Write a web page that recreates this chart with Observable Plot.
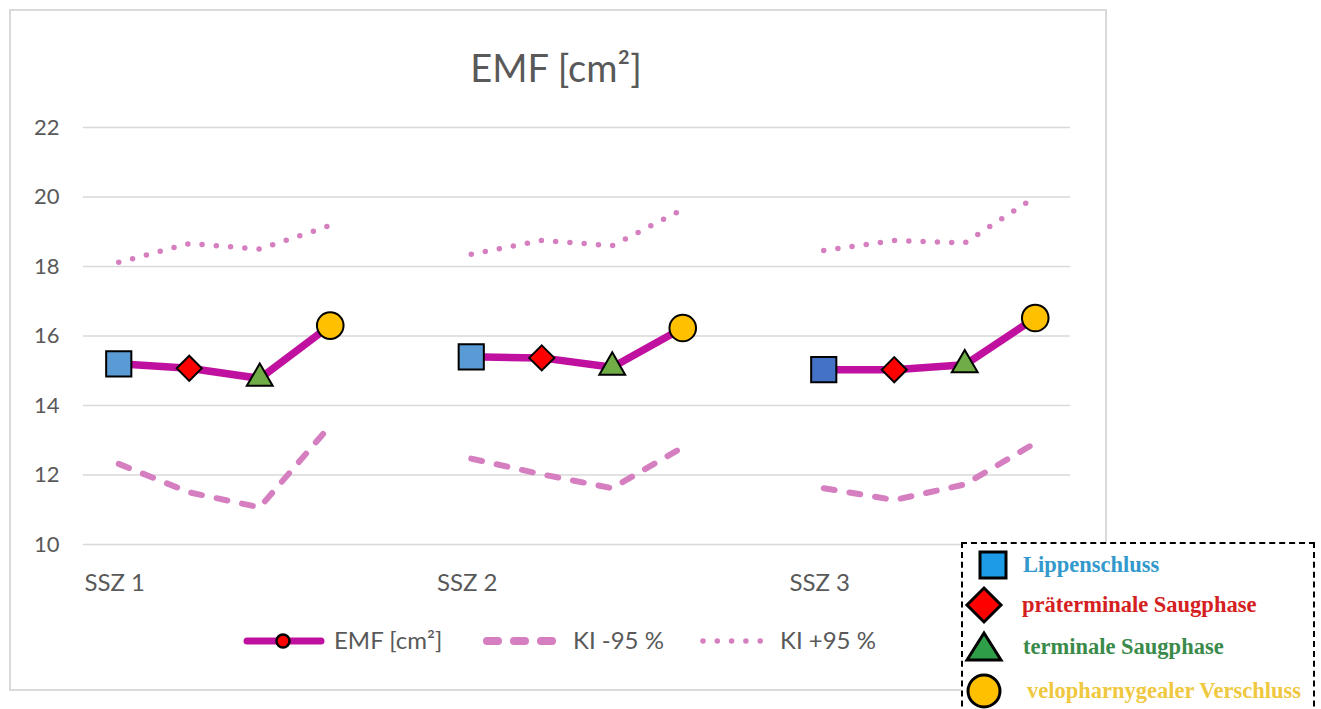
<!DOCTYPE html>
<html>
<head>
<meta charset="utf-8">
<script src="https://cdn.jsdelivr.net/npm/d3@7"></script>
<script src="https://cdn.jsdelivr.net/npm/@observablehq/plot@0.6"></script>
<style>
  html, body { margin: 0; padding: 0; background: #fff; }
  #wrap { position: relative; width: 1321px; height: 709px; overflow: hidden; font-family: Lato, "Open Sans", sans-serif; }
  #frame { position: absolute; left: 9px; top: 9px; width: 1094px; height: 678px; border: 2px solid #D9D9D9; }
  #chart { position: absolute; left: 0; top: 0; }
  #title { position: absolute; left: 356px; width: 400px; top: 45px; line-height: 44px; text-align: center; font-size: 38px; color: #595959; }
  .lg { position: absolute; }
  .lgt { position: absolute; font-size: 24px; color: #595959; line-height: 26px; white-space: nowrap; }
  #box { position: absolute; left: 961px; top: 542px; width: 350px; height: 200px; border: 2px dashed #000; background: #fff; }
  .bt { position: absolute; font-family: "Liberation Serif", "DejaVu Serif", serif; font-weight: bold; font-size: 22.5px; line-height: 24px; white-space: nowrap; }
</style>
</head>
<body>
<div id="wrap">
  <div id="frame"></div>
  <div id="chart"></div>
  <div id="title">EMF [cm²]</div>
  <div id="legend"></div>
  <div id="box"></div>
</div>
<script>
// ---- data ----
const groups = ["SSZ 1", "SSZ 2", "SSZ 3"];
const phases = ["Lippenschluss", "präterminale Saugphase", "terminale Saugphase", "velopharnygealer Verschluss"];
const emf    = [[15.2, 15.07, 14.78, 16.3], [15.4, 15.37, 15.1, 16.23], [15.03, 15.03, 15.17, 16.52]];
const kiLow  = [[12.32, 11.5, 11.07, 13.42], [12.47, 12.02, 11.62, 12.8], [11.62, 11.28, 11.73, 12.92]];
const kiHigh = [[18.12, 18.66, 18.5, 19.18], [18.35, 18.75, 18.6, 19.64], [18.46, 18.75, 18.68, 20.0]];
const yTicks = [10, 12, 14, 16, 18, 20, 22];
const seriesNames = ["EMF [cm²]", "KI -95 %", "KI +95 %"];

// ---- styles ----
const mainColor = "#C0109F";
const kiColor = "#D57EC0";
const squareFill = ["#5B9BD5", "#5B9BD5", "#4472C4"];
const phaseFill = ["#5B9BD5", "#FF0000", "#70AD47", "#FFC000"];
const phaseSymbol = ["square", "diamond2", "triangle", "circle"];
const phaseR = [14.2, 11.3, 9.6, 13.3];

// ---- table ----
const rows = [];
groups.forEach((g, gi) => {
  phases.forEach((p, pi) => {
    rows.push({group: g, gi, phase: p, pi, x: gi * 5 + pi, emf: emf[gi][pi], lo: kiLow[gi][pi], hi: kiHigh[gi][pi]});
  });
});

const fillOf = d => d.pi === 0 ? squareFill[d.gi] : phaseFill[d.pi];

const chart = Plot.plot({
  width: 1321,
  height: 709,
  marginLeft: 83,
  marginRight: 251,
  marginTop: 127,
  marginBottom: 165,
  x: {domain: [-0.5, 13.5]},
  y: {domain: [10, 22]},
  style: {fontFamily: "Lato, 'Open Sans', sans-serif", fontSize: "22px", color: "#595959", background: "transparent"},
  marks: [
    Plot.gridY(yTicks, {stroke: "#D9D9D9", strokeOpacity: 1, strokeWidth: 1.5}),
    Plot.axisY({ticks: yTicks, tickSize: 0, tickPadding: 24, label: null, fill: "#595959"}),
    Plot.axisX({ticks: [0, 5, 10], tickFormat: v => groups[v / 5], tickSize: 0, tickPadding: 29, label: null, fill: "#595959", dx: -4, fontSize: 24}),
    Plot.line(rows, {x: "x", y: "lo", z: "group", stroke: kiColor, strokeWidth: 6, strokeDasharray: "11,15", strokeLinecap: "round"}),
    Plot.line(rows, {x: "x", y: "hi", z: "group", stroke: kiColor, strokeWidth: 5.5, strokeDasharray: "0,14.3", strokeLinecap: "round"}),
    Plot.line(rows, {x: "x", y: "emf", z: "group", stroke: mainColor, strokeWidth: 7.5, strokeLinejoin: "round"}),
    ...phases.map((p, pi) => Plot.dot(rows.filter(d => d.pi === pi), {
      x: "x", y: "emf", symbol: () => phaseSymbol[pi], r: phaseR[pi],
      fill: fillOf, stroke: "#000", strokeWidth: 2
    }))
  ]
});
document.getElementById("chart").appendChild(chart);

// ---- bottom series legend ----
const legend = document.getElementById("legend");
function swatch(left, kind) {
  const svg = d3.create("svg").attr("class", "lg").attr("width", 84).attr("height", 20)
    .style("left", left + "px").style("top", "631px");
  const line = svg.append("line").attr("x1", 4).attr("x2", 78).attr("y1", 10).attr("y2", 10)
    .attr("stroke-linecap", "round");
  if (kind === 0) {
    line.attr("stroke", mainColor).attr("stroke-width", 7);
    svg.append("circle").attr("cx", 40).attr("cy", 10).attr("r", 6.5).attr("fill", "#FF0000").attr("stroke", "#000").attr("stroke-width", 2.5);
  } else if (kind === 1) {
    line.attr("x2", 75).attr("stroke", kiColor).attr("stroke-width", 8).attr("stroke-dasharray", "11,16");
  } else {
    line.attr("x2", 75).attr("stroke", kiColor).attr("stroke-width", 5.5).attr("stroke-dasharray", "0,14.3");
  }
  legend.appendChild(svg.node());
}
const swLeft = [243, 483, 699];
const txLeft = [334, 573, 780];
seriesNames.forEach((n, i) => {
  swatch(swLeft[i], i);
  const t = document.createElement("div");
  t.className = "lgt";
  t.style.left = txLeft[i] + "px";
  t.style.top = "627px";
  t.textContent = n;
  legend.appendChild(t);
});

// ---- phase legend box ----
const box = document.getElementById("box");
const boxSymbolFill = ["#1E9BE6", "#FF0000", "#2E9E48", "#FFC000"];
const boxTextColor = ["#3399CC", "#D42020", "#3A8A4A", "#F0C840"];
const boxRowY = [21, 61, 103, 147];
const boxTextX = [60, 59, 60, 64];
phases.forEach((p, i) => {
  const s = d3.create("svg").attr("width", 44).attr("height", 44)
    .style("position", "absolute").style("left", "-1px").style("top", (boxRowY[i] - 22) + "px");
  const g = s.append("g").attr("transform", "translate(22,22)");
  if (i === 0) g.append("rect").attr("x", -13).attr("y", -13).attr("width", 26).attr("height", 26);
  else if (i === 1) g.append("path").attr("d", "M0,-17L17,0L0,17L-17,0Z");
  else if (i === 2) g.append("path").attr("d", "M0,-14L17,13L-17,13Z");
  else g.append("circle").attr("r", 16);
  g.selectAll("*").attr("fill", boxSymbolFill[i]).attr("stroke", "#000").attr("stroke-width", 3);
  if (i === 0) s.style("left", "8px");
  box.appendChild(s.node());
  const t = document.createElement("div");
  t.className = "bt";
  t.style.left = boxTextX[i] + "px";
  t.style.top = (boxRowY[i] - 12) + "px";
  t.style.color = boxTextColor[i];
  t.textContent = p;
  box.appendChild(t);
});
</script>
</body>
</html>
